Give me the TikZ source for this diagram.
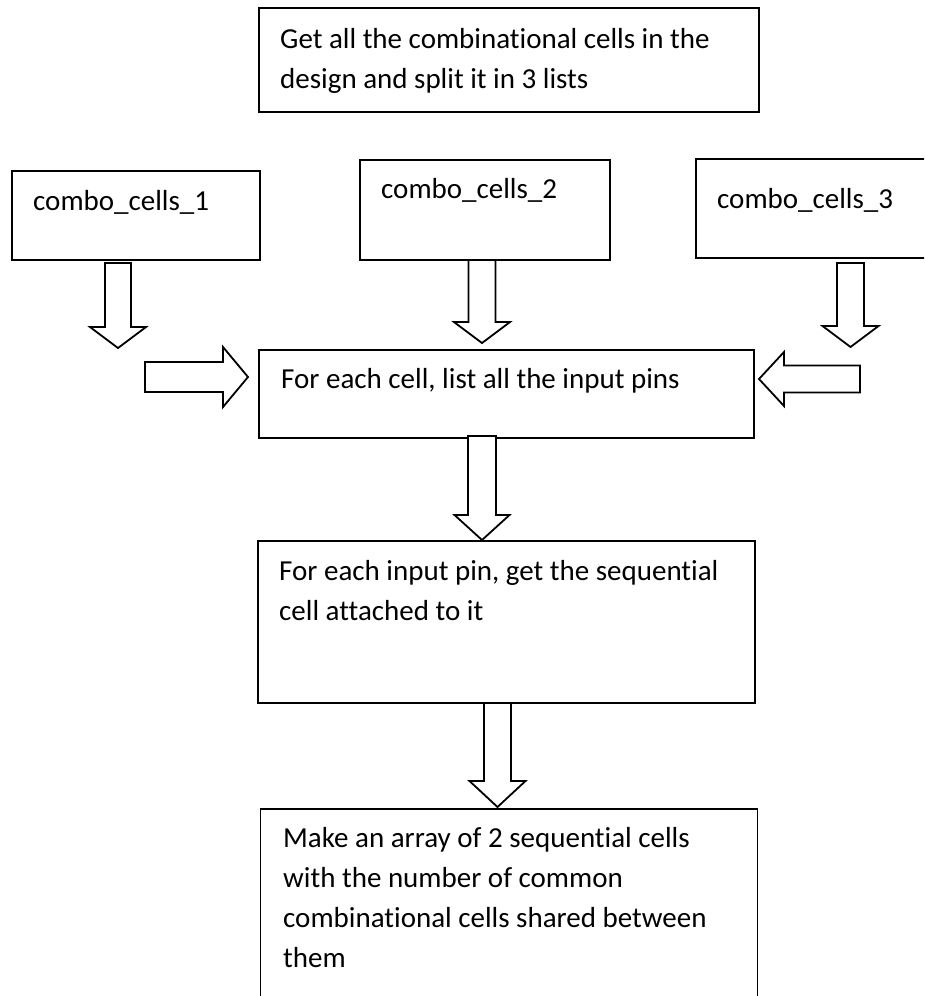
\documentclass[tikz,border=0pt]{standalone}
\usepackage{fontspec}
\setmainfont{Carlito}[RawFeature={-liga;-clig;-calt}]
\tikzset{
  box/.style={draw, line width=1.8pt, rectangle, inner sep=0pt, fill=white},
  txt/.style={anchor=base west, inner sep=0pt,
    font=\fontsize{29}{40}\selectfont},
  blk/.style={draw, line width=1.8pt, fill=white, line join=miter}
}
% text block whose baseline is that of its first line
\newcommand{\toplines}[1]{\parbox[t]{470pt}{\raggedright #1}}
% down-pointing block arrow: centre x, shaft top, head base, tip, shaft half-width, head half-width
\newcommand{\dnblock}[6]{%
  \draw[blk] (#1-#5,#2) -- (#1+#5,#2) -- (#1+#5,#3) -- (#1+#6,#3) -- (#1,#4)
    -- (#1-#6,#3) -- (#1-#5,#3) -- cycle;}
\begin{document}
\begin{tikzpicture}[x=1pt,y=-1pt]
\useasboundingbox (0,0) rectangle (924,996);
\clip (0,0) rectangle (924,996);

% boxes
\node[box, minimum width=500pt, minimum height=104pt] (split) at (509,60) {};
\node[box, minimum width=248pt, minimum height=89pt] (c1) at (136,215.5) {};
\node[box, minimum width=250pt, minimum height=100pt] (c2) at (485,210) {};
\node[box, minimum width=250pt, minimum height=99pt] (c3) at (821,208.5) {};
\node[box, minimum width=495pt, minimum height=88pt] (pins) at (506.5,394) {};
\node[box, minimum width=497pt, minimum height=162pt] (seq) at (506.5,622) {};
\node[box, minimum width=497pt, minimum height=220pt] (arr) at (509,919) {};

% texts
\node[txt] (tsplit) at (280,48) {\toplines{Get all the combinational cells in the\\design and split it in 3 lists}};
\node[txt] (tc1) at (33,210) {combo\_cells\_1};
\node[txt] (tc2) at (381,198) {combo\_cells\_2};
\node[txt] (tc3) at (717,208) {combo\_cells\_3};
\node[txt] (tpins) at (281,388) {For each cell, list all the input pins};
\node[txt] (tseq) at (279,580) {\toplines{For each input pin, get the sequential\\cell attached to it}};
\node[txt] (tarr) at (283,847) {\toplines{Make an array of 2 sequential cells\\with the number of common\\combinational cells shared between\\them}};

% block arrows
\dnblock{118}{263}{327}{348}{13}{28}
\dnblock{482}{260}{322}{343}{13.5}{28}
\dnblock{850.5}{263}{326}{347}{13.5}{28}
\dnblock{482}{436}{515}{540}{14}{27.5}
\dnblock{497.5}{703}{781}{807}{13.5}{28}

% sideways block arrows into the pin-listing box
\draw[blk] (145,362) -- (223,362) -- (223,347) -- (248,377) -- (223,407)
  -- (223,392) -- (145,392) -- cycle;
\draw[blk] (860,365.5) -- (784,365.5) -- (784,352) -- (759,379) -- (784,406)
  -- (784,392.5) -- (860,392.5) -- cycle;
\end{tikzpicture}
\end{document}
